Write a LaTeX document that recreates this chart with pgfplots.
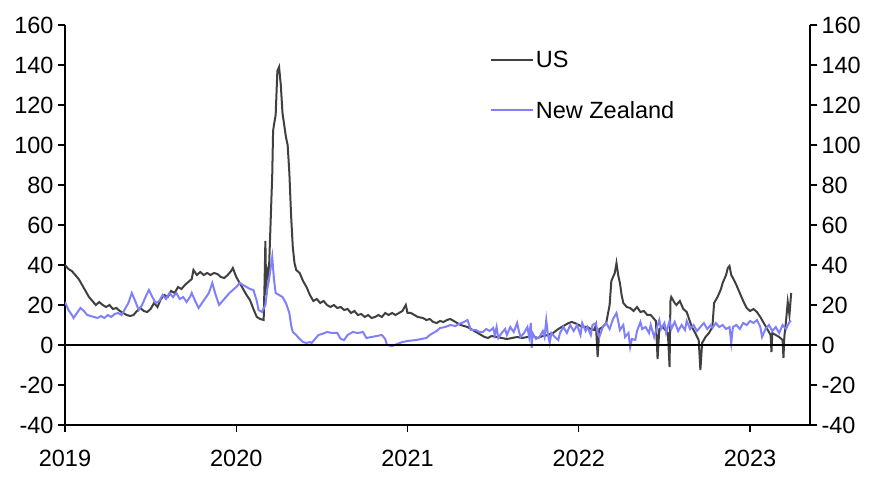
\documentclass[border=0pt]{standalone}
\usepackage{pgfplots}
\pgfplotsset{compat=1.18}
\usepackage{fontspec}
\setmainfont{Liberation Sans}
\definecolor{usc}{RGB}{64,64,64}
\definecolor{nzc}{RGB}{128,128,250}
\pgfplotstableread{
t v
2019.00 40
2019.02 38
2019.04 37
2019.06 35
2019.08 33
2019.10 30
2019.12 27
2019.14 24
2019.16 22
2019.18 20
2019.20 21.5
2019.22 20
2019.24 19
2019.26 20
2019.28 18
2019.30 18.5
2019.32 17
2019.34 16
2019.36 15
2019.38 14.5
2019.40 15
2019.42 17
2019.44 18.5
2019.46 17
2019.48 16.5
2019.50 18
2019.52 21
2019.54 19
2019.56 23
2019.58 25
2019.60 24
2019.62 27
2019.64 26
2019.66 29
2019.68 28
2019.70 30
2019.72 31.5
2019.74 33
2019.75 37.5
2019.77 35
2019.79 36.5
2019.81 35
2019.83 36
2019.85 35
2019.87 36
2019.89 35.5
2019.91 34
2019.93 33.5
2019.95 35
2019.97 37
2019.98 38.5
2020.00 34
2020.02 31
2020.04 28
2020.06 25
2020.08 22.5
2020.10 18
2020.12 14
2020.14 13
2020.16 12.5
2020.165 30
2020.17 52
2020.175 25
2020.18 38
2020.19 35
2020.20 60
2020.21 85
2020.215 107
2020.22 110
2020.23 115
2020.24 137
2020.25 139
2020.26 130
2020.27 116
2020.28 110
2020.29 104
2020.30 100
2020.31 86
2020.32 65
2020.33 49
2020.34 41
2020.35 37.5
2020.37 36
2020.39 32
2020.41 29
2020.43 25
2020.45 22
2020.47 23
2020.49 21
2020.51 22
2020.53 20
2020.55 19
2020.57 20
2020.59 18.5
2020.61 19
2020.63 17.5
2020.65 18
2020.67 16
2020.69 17
2020.71 15
2020.73 15.5
2020.75 14
2020.77 15
2020.79 13.5
2020.81 14
2020.83 15
2020.85 14
2020.87 16
2020.89 15
2020.91 16
2020.93 15
2020.95 16
2020.97 17
2020.99 20
2021.00 16
2021.02 16
2021.04 15
2021.06 14
2021.09 13.5
2021.11 12.5
2021.13 13
2021.15 11.5
2021.17 11
2021.19 12
2021.21 11.5
2021.23 12.5
2021.25 13
2021.27 12
2021.29 11
2021.31 10
2021.33 9.5
2021.35 9
2021.37 8
2021.39 7
2021.41 6
2021.43 5
2021.45 4
2021.47 3.5
2021.49 4.5
2021.52 4
2021.55 3.5
2021.58 3
2021.61 3.5
2021.64 4
2021.67 3.5
2021.70 4
2021.73 4.5
2021.76 3.5
2021.79 4.5
2021.82 5
2021.85 6
2021.88 8
2021.91 9.5
2021.94 11
2021.96 11.5
2021.99 10.5
2022.02 9
2022.05 9
2022.07 8
2022.09 7.5
2022.10 10
2022.11 -6
2022.12 8
2022.14 9
2022.16 11
2022.18 20
2022.19 32
2022.21 36
2022.22 41
2022.23 35
2022.24 31
2022.25 25
2022.26 21
2022.28 19
2022.30 18.5
2022.32 17
2022.34 19
2022.36 16.5
2022.38 17
2022.40 15
2022.42 15
2022.44 13
2022.45 12
2022.46 -7
2022.47 8
2022.49 9
2022.51 7
2022.52 6
2022.53 -11
2022.535 22
2022.54 24
2022.56 21
2022.57 20
2022.59 22
2022.61 18
2022.63 16.5
2022.64 14
2022.66 9
2022.68 6
2022.70 2.5
2022.71 -12.5
2022.72 1
2022.74 4
2022.76 6
2022.78 9
2022.79 21
2022.81 24
2022.83 28
2022.84 31
2022.86 35
2022.87 38.5
2022.88 39.5
2022.89 35
2022.90 33.5
2022.92 30
2022.94 26
2022.96 22
2022.98 18.5
2023.00 17
2023.02 18
2023.04 16.5
2023.06 14
2023.08 11
2023.10 8
2023.12 5
2023.125 -3.5
2023.13 6
2023.15 5
2023.17 4
2023.19 2.5
2023.195 -6.5
2023.20 4
2023.21 12
2023.22 21.5
2023.23 15
2023.24 26
}\usdata
\pgfplotstableread{
t v
2019.00 21.5
2019.02 17.5
2019.04 15
2019.05 13.5
2019.07 16
2019.09 18.5
2019.11 17
2019.13 15
2019.15 14.5
2019.17 14
2019.19 13.5
2019.21 14.5
2019.23 13.5
2019.25 15
2019.27 14
2019.29 15.5
2019.31 16
2019.33 15
2019.35 18
2019.37 21
2019.39 26
2019.41 22
2019.43 17.5
2019.45 20
2019.47 24
2019.49 27.5
2019.51 24
2019.53 21
2019.55 22
2019.57 25
2019.59 23
2019.61 26
2019.63 24
2019.65 26
2019.67 23
2019.69 24
2019.71 21.5
2019.73 24
2019.74 26
2019.76 22
2019.78 18.5
2019.80 21
2019.82 23.5
2019.84 26
2019.86 31
2019.88 25
2019.90 20
2019.92 22
2019.94 24
2019.96 26
2019.98 27.5
2020.00 29
2020.02 31
2020.04 30
2020.06 29
2020.08 28
2020.10 27.5
2020.12 22
2020.13 17.5
2020.15 16.5
2020.17 20
2020.18 27.5
2020.19 32
2020.20 38
2020.21 44
2020.22 33
2020.23 26
2020.25 25
2020.27 24
2020.29 21
2020.31 16
2020.32 10
2020.33 6.5
2020.35 5
2020.37 3
2020.39 1.5
2020.41 1
2020.43 1.5
2020.44 1
2020.46 3
2020.48 5
2020.50 5.5
2020.53 6.5
2020.56 6
2020.59 6
2020.61 3
2020.63 2.5
2020.65 5
2020.68 6.5
2020.71 6
2020.74 6.5
2020.76 3.5
2020.79 4
2020.82 4.5
2020.85 5
2020.87 3
2020.88 0
2020.91 -0.5
2020.94 0.5
2020.97 1.5
2021.00 2
2021.05 2.5
2021.08 3
2021.11 3.5
2021.13 5
2021.15 6
2021.17 7
2021.19 8.5
2021.22 9
2021.25 10
2021.28 9.5
2021.30 10.5
2021.33 11.5
2021.35 12.5
2021.37 7.5
2021.40 7.5
2021.42 6.5
2021.44 6.5
2021.46 8
2021.48 7
2021.50 8.5
2021.51 5
2021.52 9
2021.53 3.5
2021.55 6
2021.57 8
2021.58 5
2021.60 9
2021.62 6.5
2021.64 11
2021.65 7
2021.66 4
2021.68 6
2021.70 9
2021.71 4
2021.72 11
2021.725 -1.5
2021.73 6
2021.75 3
2021.77 4
2021.79 7
2021.80 4
2021.81 12.5
2021.82 5
2021.83 1
2021.84 6
2021.86 4
2021.88 2.5
2021.89 6
2021.91 9
2021.93 6
2021.95 10
2021.97 7
2021.99 10
2022.01 5
2022.02 11
2022.04 7
2022.05 9
2022.07 5
2022.08 10
2022.10 11
2022.11 6
2022.12 4
2022.14 9
2022.16 11
2022.18 8
2022.20 13
2022.22 16
2022.23 12
2022.24 7.5
2022.26 10
2022.27 4
2022.29 6
2022.30 -1
2022.31 3
2022.33 2.5
2022.34 7
2022.36 11.5
2022.37 8
2022.39 9
2022.41 6
2022.42 10
2022.44 4
2022.45 7
2022.47 12.5
2022.48 8
2022.50 11
2022.51 6
2022.53 12
2022.54 8
2022.56 11.5
2022.58 7
2022.60 10
2022.62 7.5
2022.63 12
2022.65 8
2022.67 10
2022.69 7
2022.71 9
2022.73 11
2022.75 8
2022.77 10
2022.78 8.5
2022.80 11
2022.82 9
2022.84 10
2022.86 8
2022.88 9
2022.89 1
2022.90 9
2022.92 10
2022.94 8
2022.96 11
2022.98 10
2023.00 12
2023.02 11
2023.04 12.5
2023.06 9
2023.07 4
2023.09 8
2023.11 10
2023.13 7
2023.15 9
2023.17 6
2023.19 10
2023.21 8
2023.23 11.5
2023.24 12
}\nzdata
\begin{document}
\begin{tikzpicture}
\path[use as bounding box] (-65bp,-55bp) rectangle (810bp,425bp);
\pgfplotsset{
  every axis/.append style={
    width=745bp, height=400bp, scale only axis,
    xmin=2019, xmax=2023.35, ymin=-40, ymax=160,
    ytick={-40,-20,...,160},
    axis line style={line width=1.6bp, black},
    major tick style={line width=1.4bp, black},
    major tick length=7bp,
    tick align=outside,
    /pgf/number format/assume math mode=true,
    tick label style={font=\fontsize{23.5bp}{28bp}\selectfont},
  },
}
\begin{axis}[
  axis y line*=left,
  axis x line*=bottom,
  xtick={2019,2020,2021,2022,2023},
  xticklabels={2019,2020,2021,2022,2023},
  xticklabel style={yshift=-15bp},
  yticklabel style={xshift=-1bp},
  clip=true,
  legend style={draw=none, fill=none, at={(0.57,0.94)}, anchor=north west,
    font=\fontsize{23.5bp}{28bp}\selectfont, row sep=28bp, inner sep=0pt,
    /tikz/every even column/.append style={column sep=0bp}},
  legend cell align=left,
  legend image code/.code={\draw[#1] (0bp,0bp) -- (42bp,0bp);},
]
\addplot[usc, line width=2bp] table[x=t,y=v] {\usdata};
\addlegendentry{US}
\addplot[nzc, line width=2bp] table[x=t,y=v] {\nzdata};
\addlegendentry{New Zealand}
\draw[black, line width=1.6bp] (axis cs:2019,0) -- (axis cs:2023.35,0);
\end{axis}
\begin{axis}[
  axis y line*=right,
  axis x line=none,
  yticklabel style={xshift=1bp},
]
\end{axis}
\end{tikzpicture}
\end{document}
